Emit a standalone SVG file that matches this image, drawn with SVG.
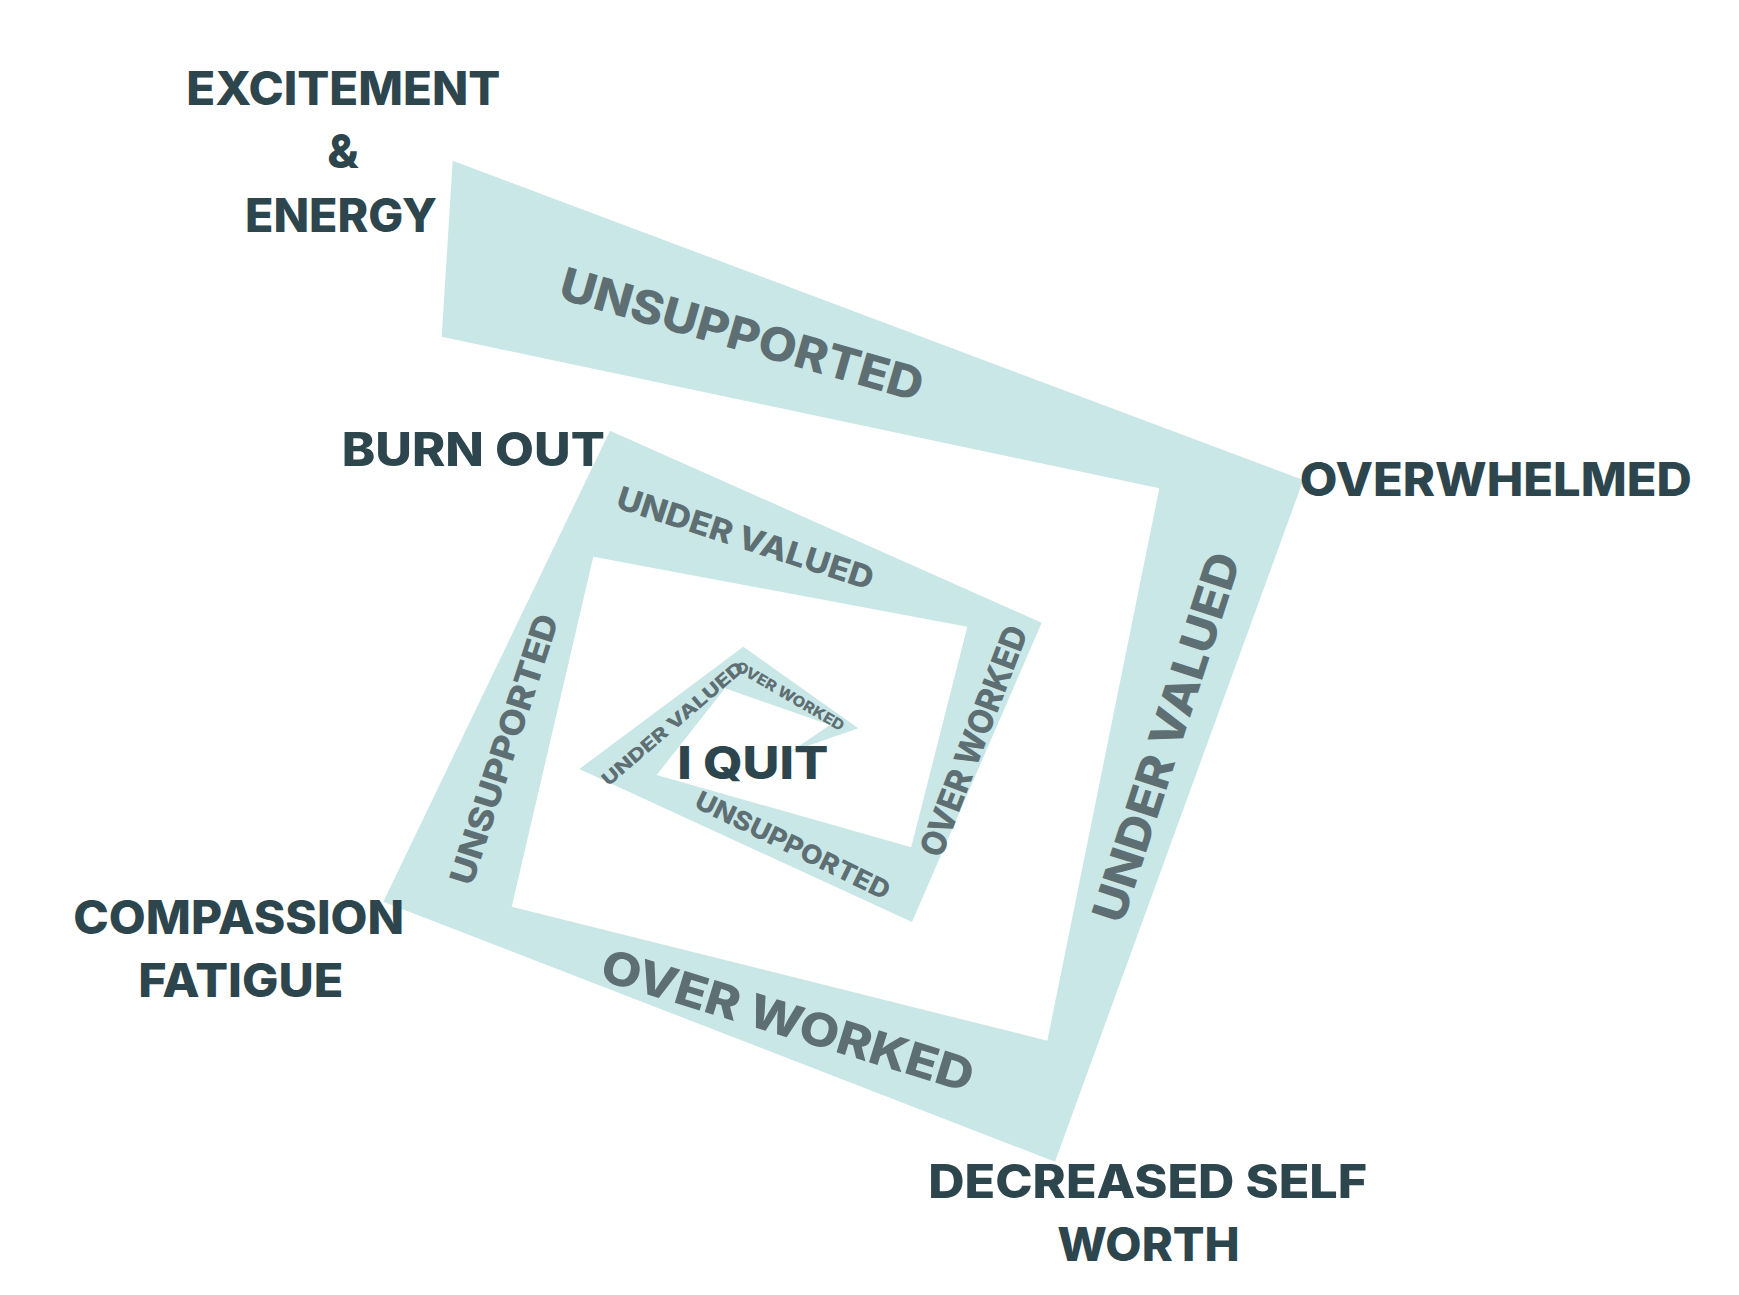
<svg xmlns="http://www.w3.org/2000/svg" width="1739" height="1295" viewBox="0 0 1739 1295">
<style>
.lbl{font-family:Inter,"Open Sans","Liberation Sans",sans-serif;font-weight:800;fill:#2d454c;text-anchor:middle}
.band{font-family:Inter,"Open Sans","Liberation Sans",sans-serif;font-weight:800;fill:#5e6f73;text-anchor:middle}
.spiral{fill:#cae7e7;stroke:none}
</style>
<rect width="1739" height="1295" fill="#ffffff"/>
<g id="connectors">
<polygon class="spiral" points="452.7,160.7 1303.3,480 1055,1161.7 383.3,901.7 610,430.7 1041.7,622.7 912,922 579.3,769 743.3,646.7 858.3,728.3 790,752 830,725 725,688.3 656.7,775 911.2,847.2 967.3,626.7 593.3,556.7 511.7,906.7 1047.3,1040.7 1159.3,488.3 441.7,336.7"/>
<g id="band-labels">
<text class="band" font-size="46" textLength="376" lengthAdjust="spacingAndGlyphs" transform="translate(742,334) rotate(16)" x="0" y="16.7">UNSUPPORTED</text>
<text class="band" font-size="46" textLength="385" lengthAdjust="spacingAndGlyphs" transform="translate(1166,737) rotate(-72)" x="0" y="16.7">UNDER VALUED</text>
<text class="band" font-size="46" textLength="387" lengthAdjust="spacingAndGlyphs" transform="translate(788,1020) rotate(17)" x="0" y="16.7">OVER WORKED</text>
<text class="band" font-size="32" textLength="268" lengthAdjust="spacingAndGlyphs" transform="translate(745.5,537.8) rotate(18)" x="0" y="11.6">UNDER VALUED</text>
<text class="band" font-size="34" textLength="282" lengthAdjust="spacingAndGlyphs" transform="translate(503.8,749) rotate(-72)" x="0" y="12.4">UNSUPPORTED</text>
<text class="band" font-size="34" textLength="244" lengthAdjust="spacingAndGlyphs" transform="translate(973.3,740.8) rotate(-69)" x="0" y="12.4">OVER WORKED</text>
<text class="band" font-size="26" textLength="213" lengthAdjust="spacingAndGlyphs" transform="translate(793,845) rotate(26)" x="0" y="9.5">UNSUPPORTED</text>
<text class="band" font-size="18" textLength="180" lengthAdjust="spacingAndGlyphs" transform="translate(672.5,723.3) rotate(-40.5)" x="0" y="6.5">UNDER VALUED</text>
<text class="band" font-size="15" textLength="123" lengthAdjust="spacingAndGlyphs" transform="translate(790,695.8) rotate(30)" x="0" y="5.5">OVER WORKED</text>
</g>
</g>
<g id="node-excitement">
<text class="lbl" font-size="46" x="343.3" y="105" textLength="314" lengthAdjust="spacingAndGlyphs">EXCITEMENT</text>
<text class="lbl" font-size="46" x="343" y="168.3">&amp;</text>
<text class="lbl" font-size="46" x="341" y="231.7" textLength="192" lengthAdjust="spacingAndGlyphs">ENERGY</text>
</g>
<g id="node-overwhelmed">
<text class="lbl" font-size="46" x="1495.8" y="496" textLength="392" lengthAdjust="spacingAndGlyphs">OVERWHELMED</text>
</g>
<g id="node-decreased">
<text class="lbl" font-size="46" x="1147.7" y="1198.3" textLength="439" lengthAdjust="spacingAndGlyphs">DECREASED SELF</text>
<text class="lbl" font-size="46" x="1148.5" y="1260.7" textLength="182.5" lengthAdjust="spacingAndGlyphs">WORTH</text>
</g>
<g id="node-compassion">
<text class="lbl" font-size="46" x="238.7" y="934" textLength="331" lengthAdjust="spacingAndGlyphs">COMPASSION</text>
<text class="lbl" font-size="46" x="240.8" y="997.3" textLength="205" lengthAdjust="spacingAndGlyphs">FATIGUE</text>
</g>
<g id="node-burnout">
<text class="lbl" font-size="46" x="473.3" y="466" textLength="263" lengthAdjust="spacingAndGlyphs">BURN OUT</text>
</g>
<g id="node-iquit">
<text class="lbl" font-size="45" x="752.8" y="779.3" textLength="151" lengthAdjust="spacingAndGlyphs">I QUIT</text>
</g>
</svg>
